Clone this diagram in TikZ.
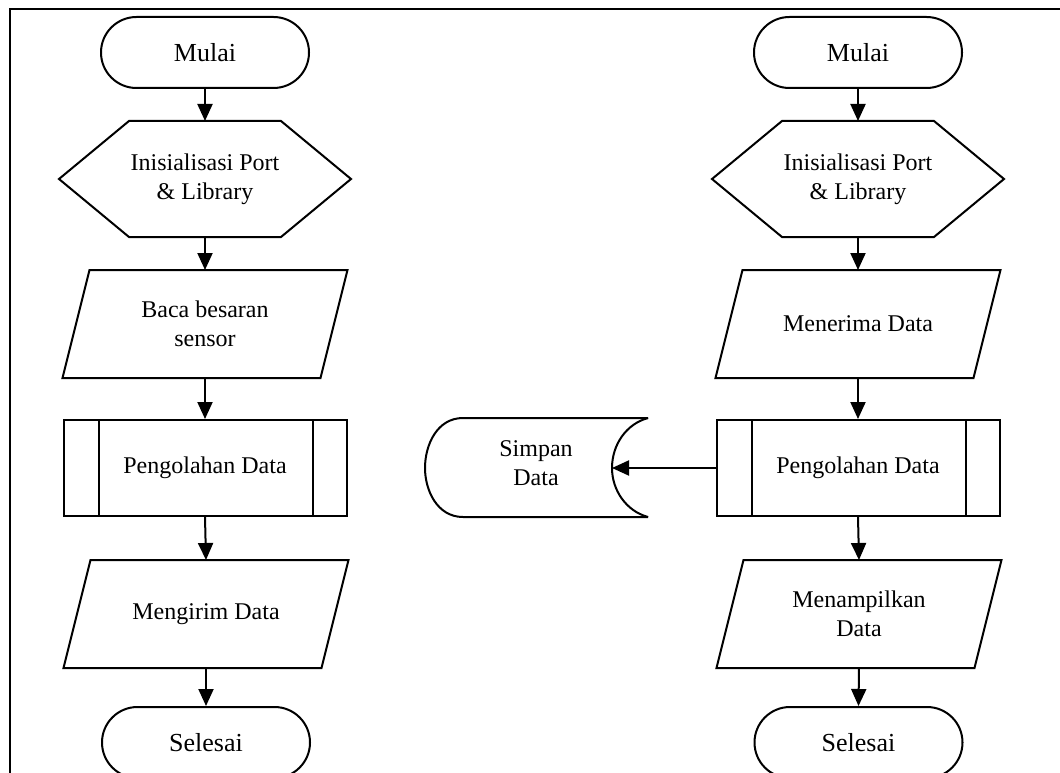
\documentclass[tikz,border=0pt]{standalone}
\usepackage{fontspec}
\setmainfont{Liberation Serif}
\usetikzlibrary{shapes.misc,arrows.meta}
\begin{document}
\begin{tikzpicture}[x=1pt,y=-1pt, line width=2pt,
  base/.style={inner sep=0pt, align=center, font=\fontsize{24}{29}\selectfont},
  term/.style={base, rounded rectangle, draw, minimum width=208pt, minimum height=71pt, font=\fontsize{26}{30}\selectfont},
  hexa/.style={base, rectangle, minimum width=290pt, minimum height=114pt},
  para/.style={base, rectangle, minimum width=283pt, minimum height=106pt},
  pred/.style={base, rectangle, draw, minimum width=283pt, minimum height=96pt},
  arr/.style={-{Triangle[width=15pt,length=17pt]}, line width=2pt}]
\useasboundingbox (0,0) rectangle (1060,773);
\clip (0,0) rectangle (1060,773);
\draw (10,790) -- (10,9) -- (1070,9);

% left column
\node[term] (m1) at (205,52.5) {Mulai};
\node[hexa] (h1) at (205,179) {Inisialisasi Port\\\& Library};
\node[para] (b1) at (205,324) {Baca besaran\\sensor};
\node[pred] (p1) at (205,468) {Pengolahan Data};
\node[para] (k1) at (206,614) {Mengirim Data};
\node[term] (s1) at (206,742.5) {Selesai};

% right column
\node[term] (m2) at (858,52.5) {Mulai};
\node[hexa] (h2) at (858,179) {Inisialisasi Port\\\& Library};
\node[para] (b2) at (858,324) {Menerima Data};
\node[pred] (p2) at (858,468) {Pengolahan Data};
\node[para] (k2) at (859,614) {Menampilkan\\Data};
\node[term] (s2) at (858.5,742.5) {Selesai};

% storage
\node[base] (sd) at (536,463) {Simpan\\Data};
\coordinate (sdin) at (612,468);
\draw (648,418) -- (463,418) .. controls (437,418) and (425,445) .. (425,468)
      .. controls (425,490) and (437,517) .. (463,517) -- (648,517);
\draw (648,418) .. controls (626,424) and (612,445) .. (sdin)
      .. controls (612,490) and (626,511) .. (648,517);

% outlines
\foreach \n in {h1,h2}{
  \draw (\n.west) -- ([xshift=70pt]\n.north west) -- ([xshift=-70pt]\n.north east)
     -- (\n.east) -- ([xshift=-70pt]\n.south east) -- ([xshift=70pt]\n.south west) -- cycle;
}
\foreach \n in {b1,b2,k1,k2}{
  \draw ([xshift=27pt]\n.north west) -- (\n.north east) -- ([xshift=-27pt]\n.south east)
     -- (\n.south west) -- cycle;
}
\foreach \n in {p1,p2}{
  \draw ([xshift=36pt]\n.north west) -- ([xshift=36pt]\n.south west);
  \draw ([xshift=-35pt]\n.north east) -- ([xshift=-35pt]\n.south east);
}

% arrows
\draw[arr] (m1.south) -- (h1.north);
\draw[arr] (h1.south) -- (b1.north);
\draw[arr] (b1.south) -- (p1.north);
\draw[arr] (p1.south) -- (k1.north);
\draw[arr] (k1.south) -- (s1.north);
\draw[arr] (m2.south) -- (h2.north);
\draw[arr] (h2.south) -- (b2.north);
\draw[arr] (b2.south) -- (p2.north);
\draw[arr] (p2.south) -- (k2.north);
\draw[arr] (k2.south) -- (s2.north);
\draw[arr] (p2.west) -- (sdin);
\end{tikzpicture}
\end{document}
